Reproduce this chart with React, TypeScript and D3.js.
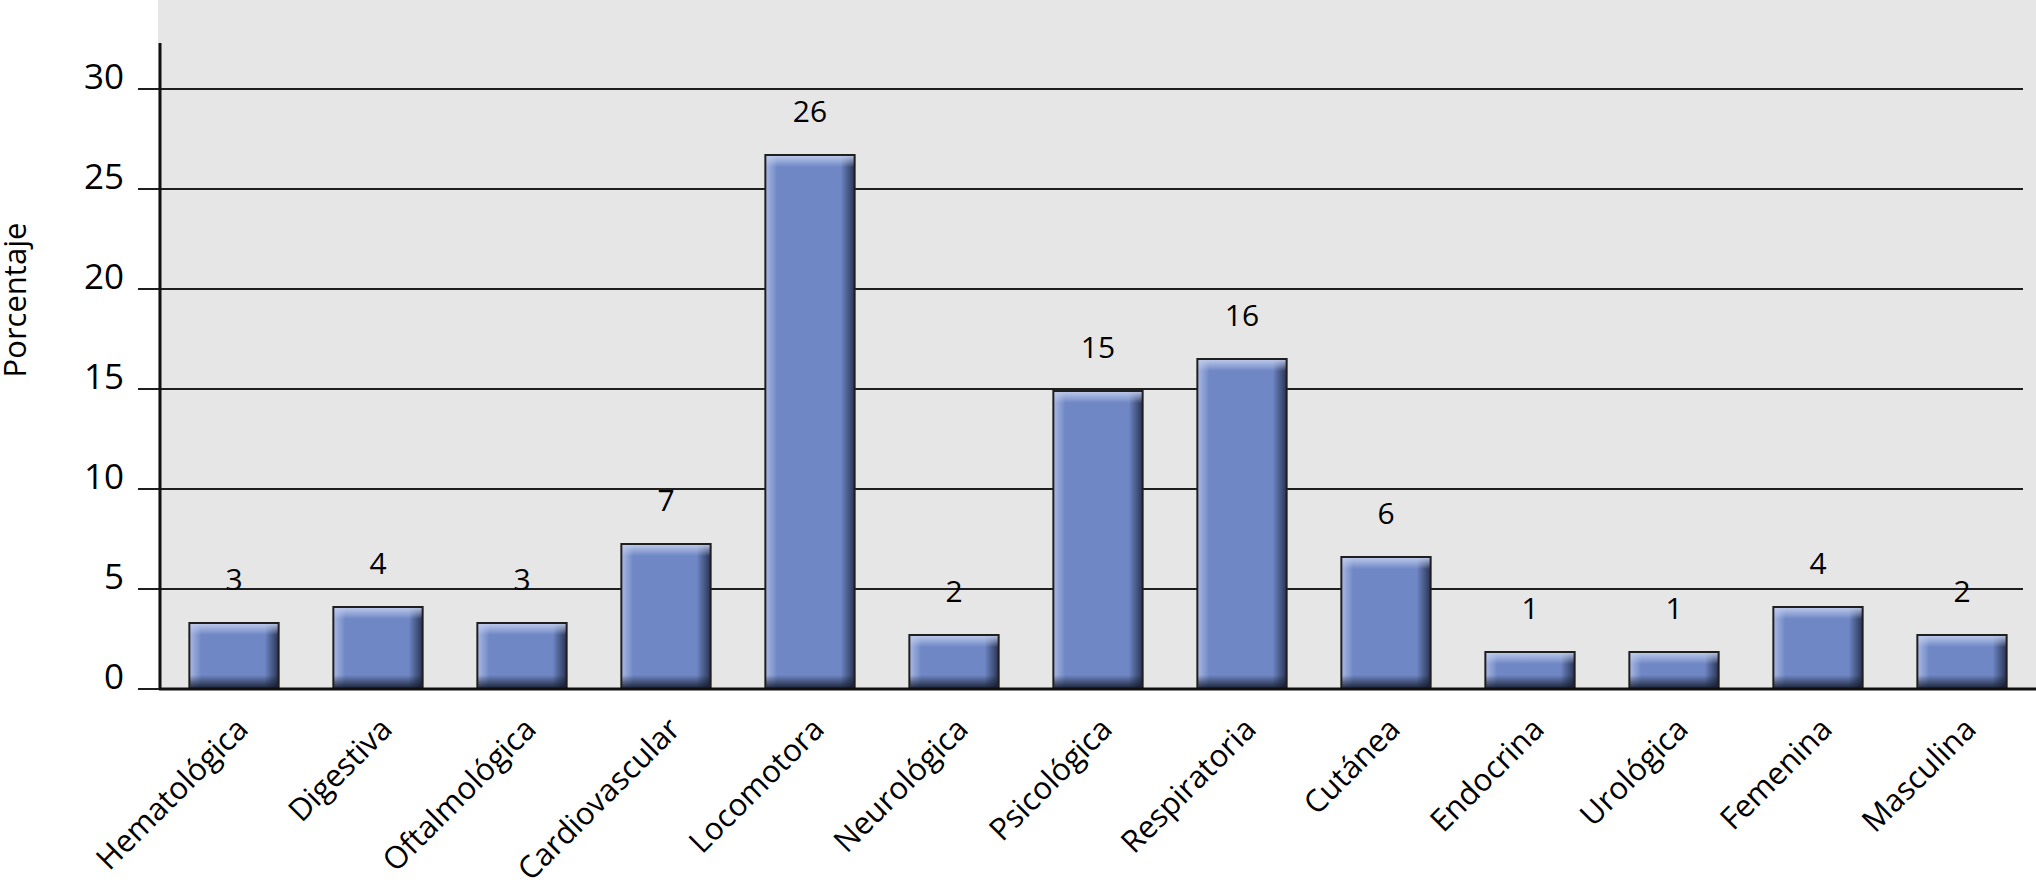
import React from "react";
import * as d3 from "d3";

// chart data
const categories = [
  "Hematológica",
  "Digestiva",
  "Oftalmológica",
  "Cardiovascular",
  "Locomotora",
  "Neurológica",
  "Psicológica",
  "Respiratoria",
  "Cutánea",
  "Endocrina",
  "Urológica",
  "Femenina",
  "Masculina",
];
const values = [3.3, 4.1, 3.3, 7.25, 26.7, 2.7, 14.9, 16.5, 6.6, 1.85, 1.85, 4.1, 2.7];
const valueLabels = ["3", "4", "3", "7", "26", "2", "15", "16", "6", "1", "1", "4", "2"];
const yTicks = [0, 5, 10, 15, 20, 25, 30];
const yTitle = "Porcentaje";

const W = 2036;
const H = 883;
const FONT = "'Open Sans', Lato, sans-serif";

export default function App() {
  const plotLeft = 160;
  const plotBottom = 689;
  const gridEnd = 2023;

  const x = d3
    .scaleBand<string>()
    .domain(categories)
    .range([162, 2034])
    .paddingInner(0.38)
    .paddingOuter(0.19);

  const y = d3.scaleLinear().domain([0, 32.3]).range([plotBottom, 43]);

  const bw = x.bandwidth();

  return (
    <svg
      width={W}
      height={H}
      style={{ position: "absolute", left: 0, top: 0, background: "#fff" }}
      fontFamily={FONT}
    >
      <defs>
        <linearGradient id="topHi" x1="0" y1="0" x2="0" y2="1">
          <stop offset="0" stopColor="#c3cfee" stopOpacity="0.95" />
          <stop offset="1" stopColor="#c3cfee" stopOpacity="0" />
        </linearGradient>
        <linearGradient id="botDark" x1="0" y1="0" x2="0" y2="1">
          <stop offset="0" stopColor="#141a2c" stopOpacity="0" />
          <stop offset="1" stopColor="#141a2c" stopOpacity="0.95" />
        </linearGradient>
        <linearGradient id="leftHi" x1="0" y1="0" x2="1" y2="0">
          <stop offset="0" stopColor="#b9c6ea" stopOpacity="0.8" />
          <stop offset="1" stopColor="#b9c6ea" stopOpacity="0" />
        </linearGradient>
        <linearGradient id="rightDark" x1="0" y1="0" x2="1" y2="0">
          <stop offset="0" stopColor="#1c2440" stopOpacity="0" />
          <stop offset="1" stopColor="#1c2440" stopOpacity="0.85" />
        </linearGradient>
      </defs>

      {/* plot background */}
      <rect x={158} y={0} width={W - 158} height={plotBottom} fill="#e6e6e6" />

      {/* gridlines + y tick labels */}
      {yTicks.map((t) => (
        <g key={t}>
          <line
            x1={138}
            x2={gridEnd}
            y1={y(t)}
            y2={y(t)}
            stroke="#1e1e1e"
            strokeWidth={2}
          />
          <text
            x={124}
            y={y(t)}
            textAnchor="end"
            fontSize={35}
            fill="#000"
          >
            {t}
          </text>
        </g>
      ))}

      {/* bars */}
      {categories.map((c, i) => {
        const bx = x(c)!;
        const by = y(values[i]);
        const bh = plotBottom - by;
        return (
          <g key={c}>
            <rect x={bx} y={by} width={bw} height={bh} fill="#6f87c5" />
            <rect x={bx} y={by} width={12} height={bh} fill="url(#leftHi)" />
            <rect x={bx + bw - 14} y={by} width={14} height={bh} fill="url(#rightDark)" />
            <rect x={bx} y={by} width={bw} height={Math.min(12, bh)} fill="url(#topHi)" />
            <rect
              x={bx}
              y={plotBottom - Math.min(14, bh)}
              width={bw}
              height={Math.min(14, bh)}
              fill="url(#botDark)"
            />
            <rect
              x={bx}
              y={by}
              width={bw}
              height={bh}
              fill="none"
              stroke="#1f1f1f"
              strokeWidth={2}
            />
            <text
              x={bx + bw / 2}
              y={by - 33}
              textAnchor="middle"
              fontSize={30}
              fill="#000"
            >
              {valueLabels[i]}
            </text>
          </g>
        );
      })}

      {/* axes */}
      <line x1={plotLeft} x2={plotLeft} y1={43} y2={plotBottom + 1} stroke="#111" strokeWidth={3} />
      <line x1={plotLeft - 1} x2={W} y1={plotBottom} y2={plotBottom} stroke="#111" strokeWidth={3} />

      {/* category labels */}
      {categories.map((c) => (
        <text
          key={c}
          transform={`translate(${x(c)! + bw / 2 + 16},${plotBottom + 42}) rotate(-45)`}
          textAnchor="end"
          fontSize={31}
          fill="#000"
        >
          {c}
        </text>
      ))}

      {/* y title */}
      <text
        transform={`translate(26,300) rotate(-90)`}
        textAnchor="middle"
        fontSize={31}
        fill="#000"
      >
        {yTitle}
      </text>
    </svg>
  );
}
